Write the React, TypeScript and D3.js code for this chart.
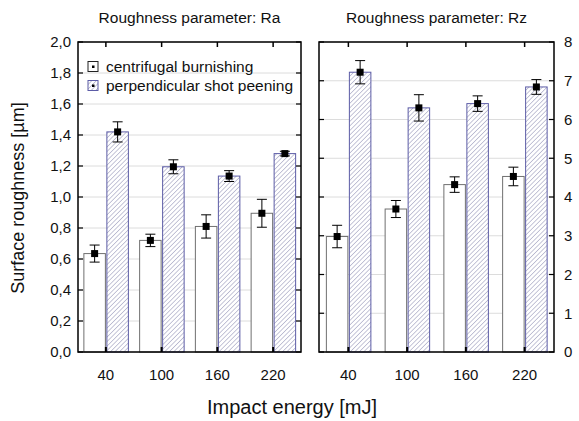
import React from "react";
import * as d3 from "d3";

const categories = ["40", "100", "160", "220"];
const raBurnish = [0.635, 0.72, 0.81, 0.895];
const raBurnishErr = [0.055, 0.04, 0.075, 0.09];
const raPeen = [1.42, 1.195, 1.135, 1.28];
const raPeenErr = [0.065, 0.045, 0.035, 0.015];
const rzBurnish = [2.98, 3.69, 4.32, 4.53];
const rzBurnishErr = [0.29, 0.22, 0.2, 0.24];
const rzPeen = [7.22, 6.3, 6.41, 6.84];
const rzPeenErr = [0.3, 0.34, 0.2, 0.19];
const raTicks = [0, 0.2, 0.4, 0.6, 0.8, 1.0, 1.2, 1.4, 1.6, 1.8, 2.0];
const rzTicks = [0, 1, 2, 3, 4, 5, 6, 7, 8];
const legendLabels = ["centrifugal burnishing", "perpendicular shot peening"];

const FONT = "Liberation Sans, Arial, sans-serif";
const TOP = 42;
const BOTTOM = 352;

function Panel({ x0, x1, yMax, ticks, b, be, p, pe, side, fmt, title, legend }: any) {
  const x = d3.scaleBand().domain(categories).range([x0, x1]);
  const y = d3.scaleLinear().domain([0, yMax]).range([BOTTOM, TOP]);
  const bw = 21.5;
  const gap = 0.5;
  const bars: any[] = [];
  categories.forEach((c, i) => {
    const cx = (x(c) as number) + x.bandwidth() / 2;
    const series = [
      { v: b[i], e: be[i], left: cx - gap - bw, hatch: false },
      { v: p[i], e: pe[i], left: cx + gap + 0.5, hatch: true },
    ];
    series.forEach((s, j) => {
      const mx = s.left + bw / 2;
      bars.push(
        <g key={c + j}>
          <rect
            x={s.left}
            y={y(s.v)}
            width={bw}
            height={BOTTOM - y(s.v)}
            fill={s.hatch ? "url(#hatch)" : "#fff"}
            stroke={s.hatch ? "#5c5ca6" : "#707070"}
            strokeWidth={1}
          />
          <line x1={mx} x2={mx} y1={y(s.v + s.e)} y2={y(s.v - s.e)} stroke="#000" strokeWidth={1} />
          <line x1={mx - 5} x2={mx + 5} y1={y(s.v + s.e)} y2={y(s.v + s.e)} stroke="#000" strokeWidth={1} />
          <line x1={mx - 5} x2={mx + 5} y1={y(s.v - s.e)} y2={y(s.v - s.e)} stroke="#000" strokeWidth={1} />
          <rect x={mx - 3.5} y={y(s.v) - 3.5} width={7} height={7} fill="#000" />
        </g>
      );
    });
  });
  return (
    <g>
      {ticks.map((t: number) => (
        <line key={"g" + t} x1={x0} x2={x1} y1={y(t)} y2={y(t)} stroke="#dcdcdc" strokeWidth={1} />
      ))}
      {bars}
      {ticks.map((t: number) => (
        <g key={"t" + t}>
          <line x1={x0} x2={x0 + 5} y1={y(t)} y2={y(t)} stroke="#000" strokeWidth={1.2} />
          <line x1={x1 - 5} x2={x1} y1={y(t)} y2={y(t)} stroke="#000" strokeWidth={1.2} />
          <text
            x={side === "left" ? x0 - 7 : x1 + 10}
            y={y(t)}
            dy="0.35em"
            textAnchor={side === "left" ? "end" : "start"}
            fontSize={15}
            fontFamily={FONT}
            fill="#111"
          >
            {fmt(t)}
          </text>
        </g>
      ))}
      {categories.map((c) => {
        const cx = (x(c) as number) + x.bandwidth() / 2;
        return (
          <g key={"c" + c}>
            <line x1={cx} x2={cx} y1={TOP} y2={TOP + 5} stroke="#000" strokeWidth={1.5} />
            <line x1={cx} x2={cx} y1={BOTTOM} y2={BOTTOM - 5} stroke="#000" strokeWidth={2} />
            <text x={cx} y={BOTTOM + 28} textAnchor="middle" fontSize={15} fontFamily={FONT} fill="#111">
              {c}
            </text>
          </g>
        );
      })}
      <rect x={x0} y={TOP} width={x1 - x0} height={BOTTOM - TOP} fill="none" stroke="#000" strokeWidth={1.5} />
      <text x={(x0 + x1) / 2} y={23} textAnchor="middle" fontSize={15.5} fontFamily={FONT} fill="#111">
        {title}
      </text>
      {legend && (
        <g>
          {legendLabels.map((l, i) => {
            const ly = 66.5 + i * 19;
            return (
              <g key={l}>
                <rect
                  x={88}
                  y={ly - 5}
                  width={10}
                  height={10}
                  fill={i === 0 ? "#fff" : "url(#hatch)"}
                  stroke={i === 0 ? "#222" : "#5c5ca6"}
                  strokeWidth={1}
                />
                <rect x={92} y={ly - 1} width={2.5} height={2.5} fill="#000" />
                <text x={106} y={ly} dy="0.35em" fontSize={15.5} fontFamily={FONT} fill="#111">
                  {l}
                </text>
              </g>
            );
          })}
        </g>
      )}
    </g>
  );
}

export default function App() {
  const fmt1 = (t: number) => t.toFixed(1).replace(".", ",");
  const fmt0 = (t: number) => String(t);
  return (
    <svg width={579} height={421} style={{ position: "absolute", left: 0, top: 0, background: "#fff" }}>
      <defs>
        <pattern id="hatch" patternUnits="userSpaceOnUse" width={3.2} height={3.2} patternTransform="rotate(45)">
          <rect width={3.2} height={3.2} fill="#fff" />
          <line x1={0} y1={0} x2={0} y2={3.2} stroke="#8080aa" strokeWidth={0.9} />
        </pattern>
      </defs>
      <rect width={579} height={421} fill="#fff" />
      <Panel
        x0={78}
        x1={301}
        yMax={2}
        ticks={raTicks}
        b={raBurnish}
        be={raBurnishErr}
        p={raPeen}
        pe={raPeenErr}
        side="left"
        fmt={fmt1}
        title="Roughness parameter: Ra"
        legend
      />
      <Panel
        x0={319}
        x1={554}
        yMax={8}
        ticks={rzTicks}
        b={rzBurnish}
        be={rzBurnishErr}
        p={rzPeen}
        pe={rzPeenErr}
        side="right"
        fmt={fmt0}
        title="Roughness parameter: Rz"
      />
      <text
        transform={`translate(24,${198}) rotate(-90)`}
        textAnchor="middle"
        fontSize={18}
        fontFamily={FONT}
        fill="#111"
      >
        Surface roughness [µm]
      </text>
      <text x={292} y={414} textAnchor="middle" fontSize={20} fontFamily={FONT} fill="#111">
        Impact energy [mJ]
      </text>
    </svg>
  );
}
